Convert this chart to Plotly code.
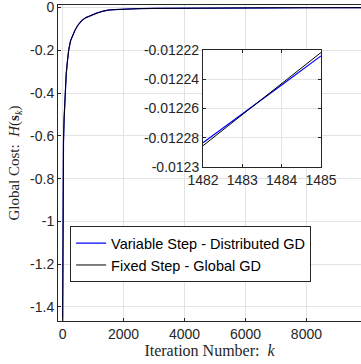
import plotly.graph_objects as go

# ---- data ----
k_main = [0, 10, 20, 30, 50, 80, 120, 160, 200, 260, 330, 400, 500, 620, 750, 900,
          1100, 1300, 1482, 1485, 1700, 2000, 2500, 3000, 4000, 5000, 6000, 7000,
          8000, 9000, 10000]
H_variable = [-1.55, -1.05, -0.78, -0.63, -0.52, -0.41, -0.31, -0.25, -0.20, -0.156,
              -0.128, -0.108, -0.083, -0.062, -0.048, -0.038, -0.027, -0.018,
              -0.01228, -0.01222, -0.0095, -0.0072, -0.0050, -0.0037, -0.0024,
              -0.0017, -0.0013, -0.0011, -0.0009, -0.0008, -0.0007]
H_fixed = [-1.55, -1.05, -0.78, -0.63, -0.52, -0.41, -0.31, -0.25, -0.20, -0.156,
           -0.128, -0.108, -0.083, -0.062, -0.048, -0.038, -0.027, -0.018,
           -0.01229, -0.01222, -0.0095, -0.0072, -0.0050, -0.0037, -0.0024,
           -0.0017, -0.0013, -0.0011, -0.0009, -0.0008, -0.0007]

k_inset = [1482, 1483, 1484, 1485]
H_variable_inset = [-0.0122834, -0.0122640, -0.0122440, -0.0122241]
H_fixed_inset = [-0.0122854, -0.0122641, -0.0122430, -0.0122218]

x_ticks = [0, 2000, 4000, 6000, 8000]
y_ticks = [0, -0.2, -0.4, -0.6, -0.8, -1, -1.2, -1.4]
y_tick_labels = ["0", "-0.2", "-0.4", "-0.6", "-0.8", "-1", "-1.2", "-1.4"]
xi_ticks = [1482, 1483, 1484, 1485]
yi_ticks = [-0.01222, -0.01224, -0.01226, -0.01228, -0.0123]
yi_tick_labels = ["-0.01222", "-0.01224", "-0.01226", "-0.01228", "-0.0123"]

names = ["Variable Step - Distributed GD", "Fixed Step - Global GD"]
colors = ["#0000ff", "#000000"]

AX = "#262626"
GRID = "#e3e3e3"
SANS = "Liberation Sans, Arial, sans-serif"
SERIF = "Liberation Serif, DejaVu Serif, serif"

fig = go.Figure()
fig.add_trace(go.Scatter(x=k_main, y=H_variable, mode="lines", name=names[0],
                         line=dict(color=colors[0], width=1.2)))
fig.add_trace(go.Scatter(x=k_main, y=H_fixed, mode="lines", name=names[1],
                         line=dict(color=colors[1], width=1)))
fig.add_trace(go.Scatter(x=k_inset, y=H_variable_inset, mode="lines", showlegend=False,
                         line=dict(color=colors[0], width=1.2), xaxis="x2", yaxis="y2"))
fig.add_trace(go.Scatter(x=k_inset, y=H_fixed_inset, mode="lines", showlegend=False,
                         line=dict(color=colors[1], width=1), xaxis="x2", yaxis="y2"))

fig.update_layout(
    template="none",
    width=361, height=364,
    margin=dict(l=58, r=0, t=5, b=43, autoexpand=False),
    paper_bgcolor="white", plot_bgcolor="white",
    font=dict(family=SANS, size=14, color=AX),
    showlegend=True,
    legend=dict(x=0.04, y=0.30, xanchor="left", yanchor="top",
                bgcolor="white", bordercolor=AX, borderwidth=1,
                font=dict(family=SANS, size=14.5, color="black"),
                tracegroupgap=0),
    xaxis=dict(range=[-150, 9790], tickvals=x_ticks, ticks="inside", ticklen=3,
               tickcolor=AX, showline=True, linecolor=AX, linewidth=1, mirror=True,
               showgrid=True, gridcolor=GRID, zeroline=False, automargin=False,
               ticklabeloverflow="allow",
               title=dict(text="Iteration Number:  <i>k</i>",
                          font=dict(family=SERIF, size=16, color=AX), standoff=3),
               domain=[0, 1]),
    yaxis=dict(range=[-1.466, 0.012], tickvals=y_ticks, ticktext=y_tick_labels,
               ticks="inside", ticklen=3, tickcolor=AX, showline=True, linecolor=AX,
               linewidth=1, mirror=False, showgrid=True, gridcolor=GRID, zeroline=False,
               automargin=False, ticklabeloverflow="allow",
               title=dict(text="Global Cost:  <i>H</i>(<b>s</b><sub><i>k</i></sub>)",
                          font=dict(family=SERIF, size=15, color=AX), standoff=6),
               domain=[0, 1]),
    xaxis2=dict(domain=[0.4785, 0.868], anchor="y2", range=[1482, 1485],
                tickvals=xi_ticks, ticks="inside", ticklen=3, tickcolor=AX,
                showline=True, linecolor=AX, linewidth=1, mirror="ticks",
                showgrid=True, gridcolor=GRID, zeroline=False, automargin=False,
                ticklabeloverflow="allow",
                tickfont=dict(family=SANS, size=14, color=AX)),
    yaxis2=dict(domain=[0.487, 0.858], anchor="x2", range=[-0.0123, -0.01222],
                tickvals=yi_ticks, ticktext=yi_tick_labels, ticks="inside", ticklen=3,
                tickcolor=AX, showline=True, linecolor=AX, linewidth=1, mirror="ticks",
                showgrid=True, gridcolor=GRID, zeroline=False, automargin=False,
                ticklabeloverflow="allow",
                tickfont=dict(family=SANS, size=14, color=AX)),
)

fig.write_html(
    "out.html",
    config={"displayModeBar": False},
    post_script="document.body.style.margin='0';document.body.style.overflow='hidden';",
)
